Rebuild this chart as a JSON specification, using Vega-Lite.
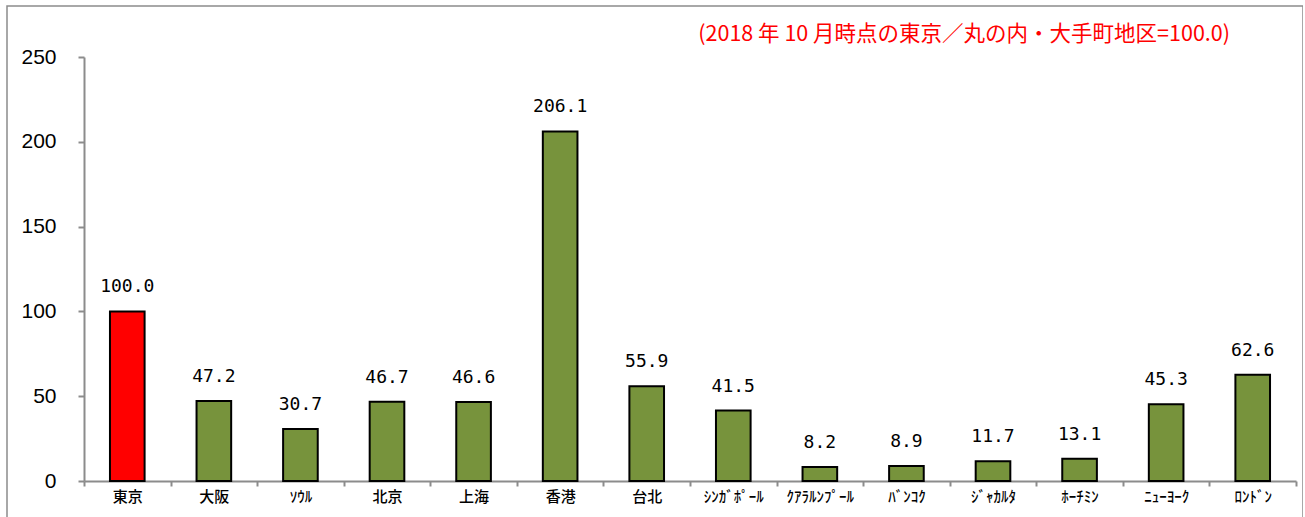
{
  "$schema": "https://vega.github.io/schema/vega-lite/v6.json",
  "width": 1296,
  "height": 524,
  "autosize": "none",
  "padding": {"left": 7, "top": 6, "right": 0, "bottom": 0},
  "title": {
    "text": "(2018 年 10 月時点の東京／丸の内・大手町地区=100.0)",
    "anchor": "end",
    "frame": "group",
    "orient": "top",
    "offset": -39,
    "dx": -73,
    "color": "#FF0000",
    "font": "Noto Sans CJK JP",
    "fontSize": 21.5,
    "fontWeight": "normal"
  },
  "data": {
    "values": [
      {"city": "東京", "value": 100.0},
      {"city": "大阪", "value": 47.2},
      {"city": "ｿｳﾙ", "value": 30.7},
      {"city": "北京", "value": 46.7},
      {"city": "上海", "value": 46.6},
      {"city": "香港", "value": 206.1},
      {"city": "台北", "value": 55.9},
      {"city": "ｼﾝｶﾞﾎﾟｰﾙ", "value": 41.5},
      {"city": "ｸｱﾗﾙﾝﾌﾟｰﾙ", "value": 8.2},
      {"city": "ﾊﾞﾝｺｸ", "value": 8.9},
      {"city": "ｼﾞｬｶﾙﾀ", "value": 11.7},
      {"city": "ﾎｰﾁﾐﾝ", "value": 13.1},
      {"city": "ﾆｭｰﾖｰｸ", "value": 45.3},
      {"city": "ﾛﾝﾄﾞﾝ", "value": 62.6}
    ]
  },
  "encoding": {
    "x": {
      "field": "city",
      "type": "nominal",
      "sort": null,
      "scale": {"range": [77, 1289], "paddingInner": 0, "paddingOuter": 0},
      "axis": {
        "orient": "bottom",
        "offset": -49,
        "tickBand": "extent",
        "domainColor": "#8c8c8c",
        "domainWidth": 2,
        "tickColor": "#8c8c8c",
        "tickWidth": 2,
        "tickSize": 5,
        "labelAngle": 0,
        "labelFont": "Noto Sans CJK JP",
        "labelFontSize": 15,
        "labelFontWeight": 500,
        "labelColor": "#000000",
        "labelPadding": 3,
        "title": null
      }
    },
    "y": {
      "field": "value",
      "type": "quantitative",
      "scale": {"domain": [0, 250], "range": [475, 51], "nice": false},
      "axis": {
        "orient": "left",
        "offset": -77,
        "values": [0, 50, 100, 150, 200, 250],
        "grid": false,
        "domainColor": "#8c8c8c",
        "domainWidth": 2,
        "tickColor": "#8c8c8c",
        "tickWidth": 2,
        "tickSize": 6,
        "labelPadding": 22,
        "labelFont": "Liberation Sans",
        "labelFontSize": 21,
        "labelColor": "#000000",
        "title": null
      }
    }
  },
  "layer": [
    {
      "mark": {"type": "bar", "width": {"band": 0.4}, "stroke": "#000000", "strokeWidth": 2},
      "encoding": {
        "color": {
          "condition": {"test": "datum.city === '東京'", "value": "#FF0000"},
          "value": "#77933C"
        }
      }
    },
    {
      "mark": {"type": "text", "baseline": "bottom", "dy": -15, "font": "DejaVu Sans Mono", "fontSize": 18, "color": "#000000"},
      "encoding": {
        "text": {"field": "value", "type": "quantitative", "format": ".1f"}
      }
    }
  ],
  "config": {
    "view": {"stroke": "#8c8c8c", "strokeWidth": 1.5},
    "background": "#ffffff"
  }
}
